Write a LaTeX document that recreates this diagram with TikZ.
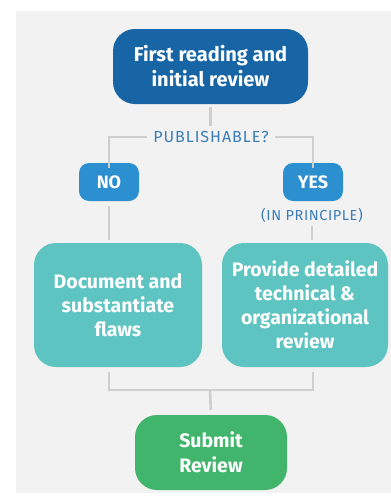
\documentclass[tikz,border=0pt]{standalone}
\usepackage{fontspec}
\setmainfont{Fira Sans}
\definecolor{topblue}{HTML}{1865A6}
\definecolor{midblue}{HTML}{2B8FD0}
\definecolor{txtblue}{HTML}{3A7DB8}
\definecolor{teal1}{HTML}{5EC4C1}
\definecolor{green1}{HTML}{40B56B}
\definecolor{linegray}{HTML}{CFCFCF}
\definecolor{panel}{HTML}{F2F2F2}
\begin{document}
\begin{tikzpicture}[x=1pt,y=-1pt,
  box/.style={rounded corners=22pt, text=white, align=center, inner sep=0pt, font=\bfseries\fontsize{20}{25}\selectfont},
  smallbox/.style={rounded corners=10pt, fill=midblue, text=white, minimum width=60pt, minimum height=38pt, inner sep=0pt, font=\bfseries\fontsize{18}{20}\selectfont},
  conn/.style={draw=linegray, line width=2.6pt}]
\useasboundingbox (0,0) rectangle (391,501);
\fill[panel] (16,11) rectangle (391,493);
\node[box, fill=topblue, minimum width=195pt, minimum height=75pt] (top) at (210.5,66.5) {First reading and\\initial review};
\node[text=txtblue, font=\fontsize{16}{18}\selectfont\addfontfeature{LetterSpace=6}, inner sep=3pt] (pub) at (211,137) {PUBLISHABLE?};
\node[smallbox] (no) at (109,182) {NO};
\node[smallbox] (yes) at (313,182) {YES};
\node[text=txtblue, font=\fontsize{14.5}{16}\selectfont\addfontfeature{LetterSpace=4}, inner sep=1pt] (inp) at (312,215) {(IN PRINCIPLE)};
\node[box, fill=teal1, minimum width=168pt, minimum height=124pt, font=\bfseries\fontsize{19.5}{24}\selectfont] (doc) at (118,305) {Document and\\substantiate\\flaws};
\node[box, fill=teal1, minimum width=166pt, minimum height=124pt, font=\bfseries\fontsize{19.5}{24}\selectfont] (prov) at (305,305) {Provide detailed\\technical \&\\organizational\\review};
\node[box, fill=green1, minimum width=152pt, minimum height=75pt, font=\bfseries\fontsize{19.5}{25}\selectfont] (sub) at (211,452.5) {Submit\\Review};
\coordinate (m) at (210,390);
\coordinate (bl) at (109,372);
\coordinate (br) at (313,372);
\draw[conn, shorten <=3pt, shorten >=2pt] (top.south) -- (top.south |- pub.north);
\draw[conn, shorten <=3pt] (pub.west) -| ([yshift=-5pt]no.north);
\draw[conn, shorten <=3pt] (pub.east) -| ([yshift=-5pt]yes.north);
\draw[conn, shorten <=5pt, shorten >=3pt] (no.south) -- (no.south |- doc.north);
\draw[conn, shorten <=3pt, shorten >=3pt] (inp.south) -- (inp.south |- prov.north);
\draw[conn] (bl) |- (m) -| (br);
\draw[conn, shorten >=5pt] (m) -- (sub.north);
\end{tikzpicture}
\end{document}
